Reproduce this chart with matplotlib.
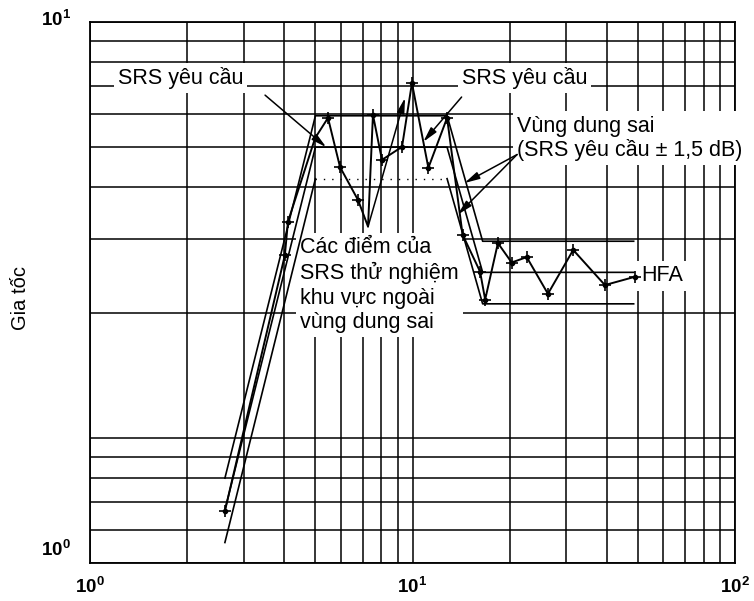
import matplotlib
matplotlib.use("Agg")
import matplotlib.pyplot as plt
import matplotlib.ticker as mticker
import matplotlib.transforms as mtransforms
import numpy as np

plt.rcParams['font.family'] = ['Liberation Sans', 'DejaVu Sans']
plt.rcParams['mathtext.fontset'] = 'custom'
plt.rcParams['mathtext.rm'] = 'Liberation Sans'
plt.rcParams['mathtext.bf'] = 'Liberation Sans:bold'

# required SRS and its +/-1.5 dB tolerance band
req_f = [2.62, 5.0, 12.8, 16.5, 48.5]
req_a = [0.67, 5.0, 5.0, 2.5, 2.5]
upper_f = [2.62, 5.0, 12.8, 16.5, 48.5]
upper_a = [0.80, 5.95, 5.95, 2.97, 2.97]
lower_f = [2.62, 5.0, 12.8, 16.5, 48.5]
lower_a = [0.56, 4.2, 4.2, 2.1, 2.1]

# test SRS points
test_f = [2.62, 4.02, 4.11, 4.99, 5.47, 5.96, 6.78, 7.28, 7.54, 8.04, 9.28, 9.96,
          11.2, 12.8, 14.3, 16.2, 16.8, 18.4, 20.3, 22.6, 26.3, 31.5, 39.5, 49.0]
test_a = [0.667, 2.75, 3.31, 5.26, 5.88, 4.48, 3.73, 3.22, 5.98, 4.66, 5.01, 7.13,
          4.46, 5.88, 3.08, 2.51, 2.15, 2.94, 2.64, 2.72, 2.22, 2.83, 2.33, 2.44]
no_marker = [3, 7]

xtick_vals = [1, 10, 100]
xtick_labels = [r'$\mathbf{10^{0}}$', r'$\mathbf{10^{1}}$', r'$\mathbf{10^{2}}$']
ytick_vals = [0.5, 10]
ytick_labels = [r'$\mathbf{10^{0}}$', r'$\mathbf{10^{1}}$']

fig = plt.figure(figsize=(7.54, 6.01), dpi=100)
ax = fig.add_axes([90/754, 1-563/601, 645/754, 541/601])
ax.set_xscale('log')
ax.set_yscale('log')
ax.set_xlim(1, 100)
ax.set_ylim(0.5, 10)
ax.set_axisbelow(True)

ax.xaxis.set_major_locator(mticker.FixedLocator(xtick_vals))
ax.xaxis.set_major_formatter(mticker.FixedFormatter(xtick_labels))
ax.yaxis.set_major_locator(mticker.FixedLocator(ytick_vals))
ax.yaxis.set_major_formatter(mticker.FixedFormatter(ytick_labels))
for a in (ax.xaxis, ax.yaxis):
    a.set_minor_locator(mticker.LogLocator(base=10, subs=np.arange(1, 10), numticks=30))
    a.set_minor_formatter(mticker.NullFormatter())
ax.tick_params(which='both', length=0, labelsize=13.5)
ax.tick_params(axis='x', pad=10)
ax.tick_params(axis='y', pad=14)
ax.grid(which='both', color='black', lw=1.1)
for s in ax.spines.values():
    s.set_linewidth(1.3)

# y labels sit a bit above their grid lines in the original
lab = ax.get_yticklabels()
lab[0].set_transform(lab[0].get_transform() + mtransforms.ScaledTranslation(0, 15/100, fig.dpi_scale_trans))
lab[1].set_transform(lab[1].get_transform() + mtransforms.ScaledTranslation(0, 4/100, fig.dpi_scale_trans))

ax.set_ylabel('Gia tốc', fontsize=14.5)
ax.yaxis.set_label_coords(-0.093, 0.49)

lw = 1.2
ax.plot(req_f, req_a, color='black', lw=lw, zorder=4)
ax.plot(upper_f, upper_a, color='black', lw=lw, zorder=4)
ax.plot(lower_f[:2], lower_a[:2], color='black', lw=lw, zorder=4)
ax.plot(lower_f[1:3], lower_a[1:3], color='black', lw=1.0, dashes=(1, 5), zorder=4)
ax.plot(lower_f[2:], lower_a[2:], color='black', lw=lw, zorder=4)

marks = [i for i in range(len(test_f)) if i not in no_marker]
ax.plot(test_f, test_a, color='black', lw=1.4, marker='+', ms=9, mew=1.2,
        markevery=marks, zorder=5)
ax.plot(test_f, test_a, ls='none', marker='o', ms=3, color='black',
        markevery=marks, zorder=5)

box = dict(facecolor='white', edgecolor='none', pad=3)
fs = 15.5
arr = dict(arrowstyle='-|>,head_length=0.9,head_width=0.22', color='black', lw=1.1,
           shrinkA=0, shrinkB=0)

ax.text(1.22, 7.33, 'SRS yêu cầu', fontsize=fs, ha='left', va='center', bbox=box, zorder=3)
ax.annotate('', xy=(5.4, 5.0), xytext=(3.49, 6.67), arrowprops=arr, zorder=6)

ax.text(14.2, 7.33, 'SRS yêu cầu', fontsize=fs, ha='left', va='center', bbox=box, zorder=3)
ax.annotate('', xy=(10.8, 5.15), xytext=(14.2, 6.6), arrowprops=arr, zorder=6)

ax.text(21.1, 5.25, 'Vùng dung sai\n(SRS yêu cầu ± 1,5 dB)', fontsize=fs, ha='left',
        va='center', linespacing=1.15, bbox=box, zorder=3)
ax.annotate('', xy=(14.5, 4.1), xytext=(21.1, 4.8), arrowprops=arr, zorder=6)
ax.annotate('', xy=(13.8, 3.44), xytext=(21.1, 4.8), arrowprops=arr, zorder=6)

ax.text(4.48, 2.33, 'Các điểm của\nSRS thử nghiệm\nkhu vực ngoài\nvùng dung sai',
        fontsize=fs, ha='left', va='center', linespacing=1.22, bbox=box, zorder=3)
ax.annotate('', xy=(9.48, 6.57), xytext=(7.28, 3.22), arrowprops=arr, zorder=6)

ax.text(51.1, 2.45, 'HFA', fontsize=fs, ha='left', va='center', bbox=box, zorder=3)

fig.savefig('out.png', dpi=100)
